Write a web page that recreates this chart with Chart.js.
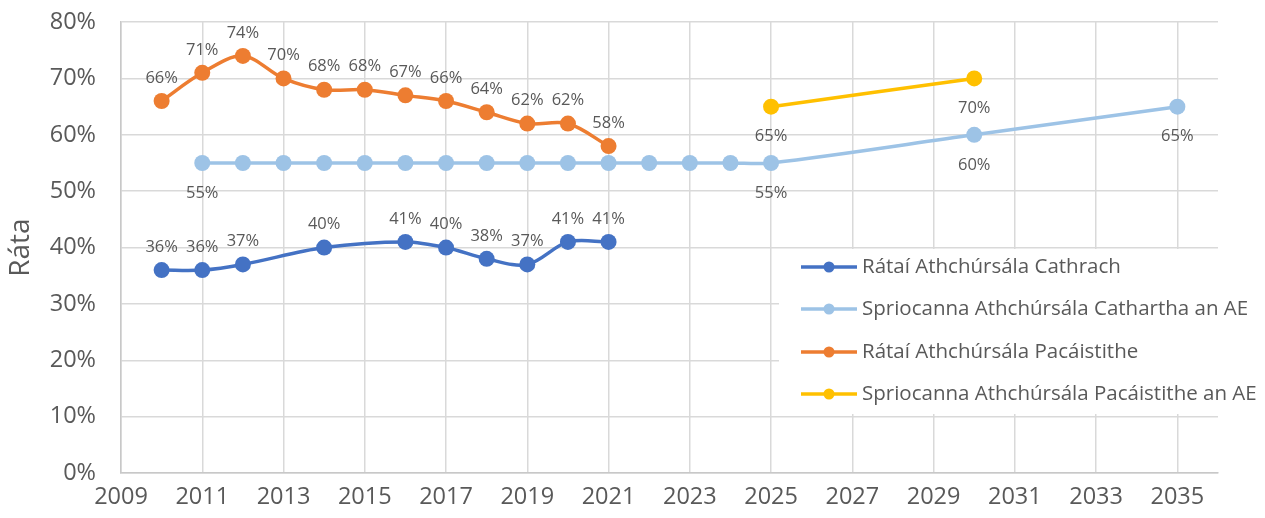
<!DOCTYPE html>
<html>
<head>
<meta charset="utf-8">
<script src="https://cdn.jsdelivr.net/npm/chart.js@4.4.0/dist/chart.umd.min.js"></script>
<style>
  html, body { margin: 0; padding: 0; background: #fff; }
  #wrap { width: 1265px; height: 518px; }
</style>
</head>
<body>
<div id="wrap"><canvas id="chart" width="1265" height="518"></canvas></div>
<script>
// x-ais: blianta
const xTicks = [2009, 2011, 2013, 2015, 2017, 2019, 2021, 2023, 2025, 2027, 2029, 2031, 2033, 2035];
const yTicks = [0, 10, 20, 30, 40, 50, 60, 70, 80];

// Rátaí Athchúrsála Cathrach
const cityYears = [2010, 2011, 2012, 2014, 2016, 2017, 2018, 2019, 2020, 2021];
const cityRates = [36, 36, 37, 40, 41, 40, 38, 37, 41, 41];

// Spriocanna Athchúrsála Cathartha an AE
const euCityYears = [2011, 2012, 2013, 2014, 2015, 2016, 2017, 2018, 2019, 2020, 2021, 2022, 2023, 2024, 2025, 2030, 2035];
const euCityTargets = [55, 55, 55, 55, 55, 55, 55, 55, 55, 55, 55, 55, 55, 55, 55, 60, 65];
const euCityLabelYears = [2011, 2025, 2030, 2035];

// Rátaí Athchúrsála Pacáistithe
const packYears = [2010, 2011, 2012, 2013, 2014, 2015, 2016, 2017, 2018, 2019, 2020, 2021];
const packRates = [66, 71, 74, 70, 68, 68, 67, 66, 64, 62, 62, 58];

// Spriocanna Athchúrsála Pacáistithe an AE
const euPackYears = [2025, 2030];
const euPackTargets = [65, 70];

const seriesNames = [
  'Rátaí Athchúrsála Cathrach',
  'Spriocanna Athchúrsála Cathartha an AE',
  'Rátaí Athchúrsála Pacáistithe',
  'Spriocanna Athchúrsála Pacáistithe an AE'
];
const colours = ['#4472C4', '#9DC3E6', '#ED7D31', '#FFC000'];

const FONT = '"Open Sans", "Noto Sans", sans-serif';
const TEXT = '#595959';
const GRID = '#D9D9D9';

function toPoints(xs, ys) {
  return xs.map((x, i) => ({ x: x, y: ys[i] }));
}

function makeSet(i, xs, ys, labelPos, labelYears) {
  return {
    label: seriesNames[i],
    data: toPoints(xs, ys),
    borderColor: colours[i],
    backgroundColor: colours[i],
    borderWidth: 3.5,
    pointRadius: 8,
    pointHoverRadius: 8,
    pointBorderWidth: 0,
    tension: 0.33,
    labelPos: labelPos,
    labelYears: labelYears
  };
}

// lipéid sonraí
const dataLabels = {
  id: 'dataLabels',
  afterDatasetsDraw(chart) {
    const ctx = chart.ctx;
    ctx.save();
    ctx.font = '16.5px ' + FONT;
    ctx.fillStyle = TEXT;
    ctx.textAlign = 'center';
    ctx.textBaseline = 'middle';
    chart.data.datasets.forEach((ds, di) => {
      const meta = chart.getDatasetMeta(di);
      meta.data.forEach((pt, i) => {
        const d = ds.data[i];
        if (ds.labelYears && !ds.labelYears.includes(d.x)) return;
        const dy = ds.labelPos === 'above' ? -23 : 30;
        ctx.fillText(d.y + '%', pt.x, pt.y + dy);
      });
    });
    ctx.restore();
  }
};

// eochair laistigh den limistéar
const boxLegend = {
  id: 'boxLegend',
  afterDraw(chart) {
    const ctx = chart.ctx;
    const area = chart.chartArea;
    const left = 779, top = 249, right = area.right, bottom = 414;
    ctx.save();
    ctx.fillStyle = '#fff';
    ctx.fillRect(left, top, right - left, bottom - top);
    ctx.font = '20.5px ' + FONT;
    ctx.textBaseline = 'middle';
    ctx.textAlign = 'left';
    const rows = [267, 309, 352, 394];
    chart.data.datasets.forEach((ds, i) => {
      const y = rows[i];
      ctx.strokeStyle = ds.borderColor;
      ctx.lineWidth = 3.5;
      ctx.beginPath();
      ctx.moveTo(801, y);
      ctx.lineTo(857, y);
      ctx.stroke();
      ctx.fillStyle = ds.borderColor;
      ctx.beginPath();
      ctx.arc(829, y, 5.5, 0, Math.PI * 2);
      ctx.fill();
      ctx.fillStyle = TEXT;
      ctx.fillText(ds.label, 862, y);
    });
    ctx.restore();
  }
};

new Chart(document.getElementById('chart'), {
  type: 'line',
  data: {
    datasets: [
      makeSet(0, cityYears, cityRates, 'above'),
      makeSet(1, euCityYears, euCityTargets, 'below', euCityLabelYears),
      makeSet(2, packYears, packRates, 'above'),
      makeSet(3, euPackYears, euPackTargets, 'below')
    ]
  },
  options: {
    responsive: false,
    animation: false,
    layout: { padding: { top: 22, right: 47, left: 0, bottom: 0 } },
    plugins: {
      legend: { display: false },
      tooltip: { enabled: false }
    },
    scales: {
      x: {
        type: 'linear',
        min: 2009,
        max: 2036,
        afterBuildTicks: (s) => { s.ticks = xTicks.map(v => ({ value: v })); },
        afterFit: (s) => { s.height = 45; },
        grid: { color: GRID, lineWidth: 1.5, drawTicks: false },
        border: { display: true, color: '#C8C8C8', width: 1.5 },
        ticks: {
          padding: 10,
          color: TEXT,
          font: { family: FONT, size: 23.5 },
          maxRotation: 0,
          autoSkip: false,
          callback: (v) => String(v)
        }
      },
      y: {
        min: 0,
        max: 80,
        afterBuildTicks: (s) => { s.ticks = yTicks.map(v => ({ value: v })); },
        afterFit: (s) => { s.width = 121; },
        grid: { color: GRID, lineWidth: 1.5, drawTicks: true, tickLength: 17, tickColor: 'rgba(0,0,0,0)' },
        border: { display: true, color: '#C8C8C8', width: 1.5 },
        ticks: {
          padding: 8,
          color: TEXT,
          font: { family: FONT, size: 23.5 },
          callback: (v) => v + '%'
        },
        title: {
          display: true,
          text: 'Ráta',
          color: TEXT,
          font: { family: FONT, size: 28 },
          padding: { top: 4, bottom: 0 }
        }
      }
    }
  },
  plugins: [dataLabels, boxLegend]
});
</script>
</body>
</html>
